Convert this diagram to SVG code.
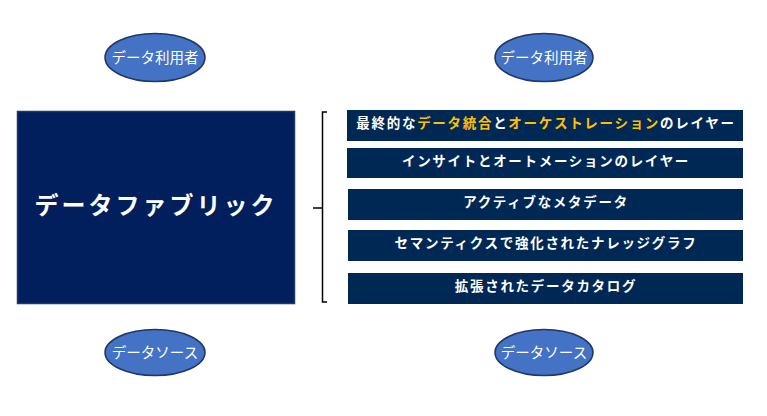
<svg xmlns="http://www.w3.org/2000/svg" width="767" height="416" viewBox="0 0 767 416">
<style>
.ell{fill:#4472C4;stroke:#1F3864;stroke-width:1.5}
.et{font-family:"Noto Sans CJK JP","Noto Sans",sans-serif;font-size:14.5px;fill:#fff;text-anchor:middle}
.bar{fill:#002855}
.bt{font-family:"Noto Sans CJK JP","Noto Sans",sans-serif;font-size:13.5px;font-weight:bold;fill:#fff;text-anchor:middle;letter-spacing:1.7px}
.hl{fill:#FFC000}
.br{fill:none;stroke:#000;stroke-width:1.5}
</style>
<rect width="767" height="416" fill="#fff"/>
<g id="user1"><ellipse class="ell" cx="155" cy="57.5" rx="50" ry="24"/><text class="et" x="155" y="63">データ利用者</text></g>
<g id="user2"><ellipse class="ell" cx="544" cy="57.5" rx="49" ry="24"/><text class="et" x="544" y="63">データ利用者</text></g>
<g id="source1"><ellipse class="ell" cx="155" cy="352.5" rx="50" ry="23"/><text class="et" x="155" y="358">データソース</text></g>
<g id="source2"><ellipse class="ell" cx="544" cy="352.5" rx="49" ry="23"/><text class="et" x="544" y="358">データソース</text></g>
<g id="fabric"><rect x="17.5" y="111.5" width="277" height="192" fill="#001F5C" stroke="#1F3864" stroke-width="1.5"/><text x="156" y="214" font-family="'Noto Sans CJK JP','Noto Sans',sans-serif" font-size="24" font-weight="bold" fill="#fff" text-anchor="middle" letter-spacing="3">データファブリック</text></g>
<g id="connectors"><path class="br" d="M327 112 H322.5 V302 H327 M313 208 H322.5"/></g>
<g id="layer1"><rect class="bar" x="347" y="110" width="396" height="31"/><text class="bt" x="546" y="128">最終的な<tspan class="hl">データ統合</tspan>と<tspan class="hl">オーケストレーション</tspan>のレイヤー</text></g>
<g id="layer2"><rect class="bar" x="347" y="148" width="396" height="30"/><text class="bt" x="546" y="166">インサイトとオートメーションのレイヤー</text></g>
<g id="layer3"><rect class="bar" x="348" y="189" width="395" height="31"/><text class="bt" x="546" y="207">アクティブなメタデータ</text></g>
<g id="layer4"><rect class="bar" x="348" y="230" width="395" height="31"/><text class="bt" x="546" y="248">セマンティクスで強化されたナレッジグラフ</text></g>
<g id="layer5"><rect class="bar" x="348" y="273" width="395" height="31"/><text class="bt" x="546" y="291">拡張されたデータカタログ</text></g>
</svg>
